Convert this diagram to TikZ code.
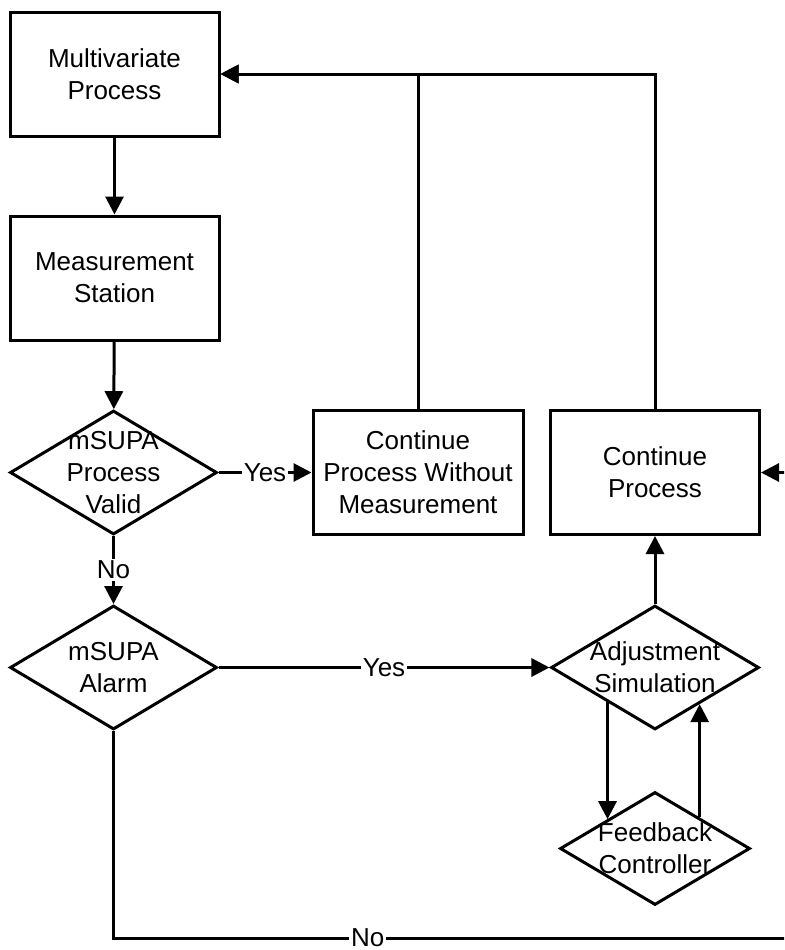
\documentclass[tikz,border=0pt]{standalone}
\usepackage{fontspec}
\setmainfont{Liberation Sans}
\usetikzlibrary{shapes.geometric,arrows.meta,calc}

\tikzset{
  box/.style={draw, line width=1.5pt, minimum width=104.5pt, minimum height=62pt, align=center, inner sep=0pt},
  decision/.style={draw, diamond, line width=1.5pt, inner sep=0pt, minimum width=103.5pt, minimum height=62pt},
  arr/.style={line width=1.5pt, -{Triangle[length=9pt,width=9pt]}},
  lbl/.style={fill=white, inner sep=1pt},
}

\begin{document}
\begin{tikzpicture}[x=0.5pt, y=-0.5pt, font=\fontsize{13}{16}\selectfont]
\useasboundingbox (0,0) rectangle (784,950);
\clip (0,0) rectangle (784,950);

% process boxes
\node[box] (mp) at (114.5,74) {Multivariate\\Process};
\node[box] (ms) at (114.5,278) {Measurement\\Station};
\node[box, minimum width=105pt] (cpwm) at (418,472.5) {Continue\\Process Without\\Measurement};
\node[box] (cp) at (655,472.5) {Continue\\Process};

% decisions, text wider than the diamonds so it sits in a label
\node[decision, label={[align=center]center:{mSUPA\\Process\\Valid}}] (valid) at (113.5,472.5) {};
\node[decision, label={[align=center]center:{mSUPA\\Alarm}}] (alarm) at (113.5,667.5) {};
\node[decision, minimum width=104pt, label={[align=center]center:{Adjustment\\Simulation}}] (adj) at (655,667.5) {};
\node[decision, minimum width=95pt, minimum height=56.5pt, label={[align=center]center:{Feedback\\Controller}}] (fb) at (655,848.5) {};

% points on the diamond edges for the feedback loop
\coordinate (a1) at ($(adj.south)!0.45!(adj.west)$);
\coordinate (a2) at ($(adj.south)!0.423!(adj.east)$);
\coordinate (f1) at ($(fb.north)!0.495!(fb.west)$);
\coordinate (f2) at ($(fb.north)!0.463!(fb.east)$);
\coordinate (edge) at (820,938);

\draw[arr] (mp) -- (ms);
\draw[arr] (ms) -- (valid);
\draw[arr] (valid) -- node[lbl]{Yes} (cpwm);
\draw[arr] (valid) -- node[lbl]{No} (alarm);
\draw[arr] (alarm) -- node[lbl]{Yes} (adj);
\draw[arr] (adj) -- (cp);
\draw[arr] (cpwm.north) |- (mp.east);
\draw[arr] (cp.north) |- (mp.east);
\draw[arr] (a1) -- (a1 |- f1);
\draw[arr] (f2) -- (f2 |- a2);
\draw[arr] (alarm.south) |- node[lbl, pos=0.68]{No} (edge) |- (cp.east);

\end{tikzpicture}
\end{document}
